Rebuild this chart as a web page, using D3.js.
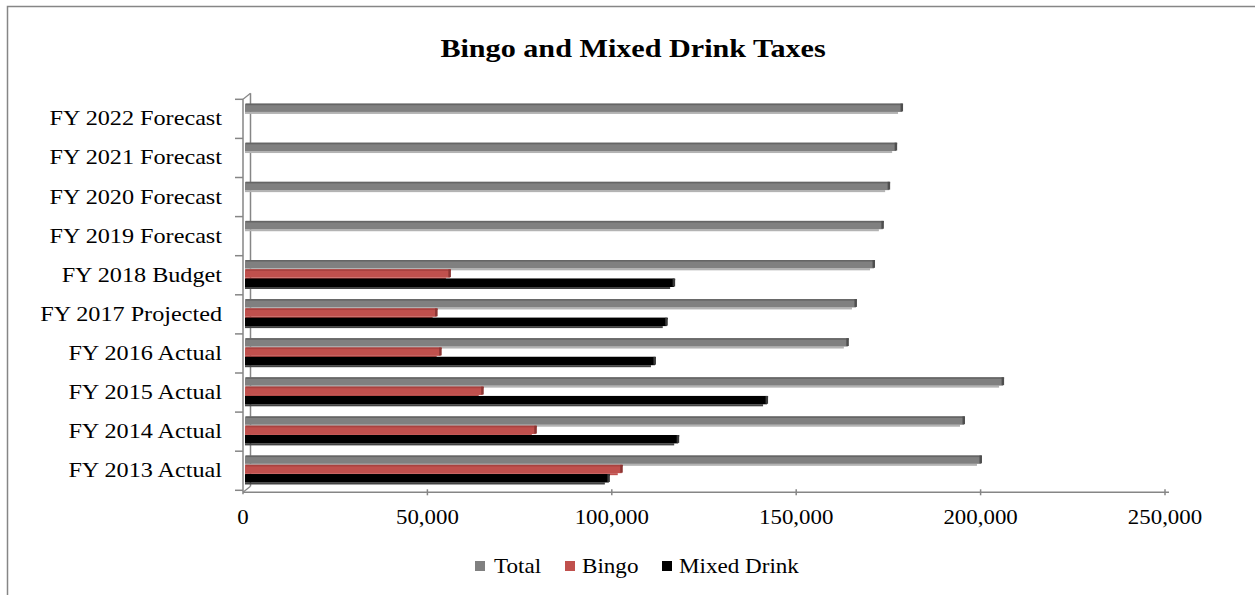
<!DOCTYPE html>
<html>
<head>
<meta charset="utf-8">
<script src="https://cdn.jsdelivr.net/npm/d3@7"></script>
<style>
  html, body { margin: 0; padding: 0; background: #fff; }
  svg { display: block; }
  text { font-family: "Liberation Serif", "Times New Roman", serif; fill: #000; }
</style>
</head>
<body>
<svg id="chart" width="1255" height="595"></svg>
<script>
// Fiscal years, bottom to top
const categories = [
  "FY 2013 Actual", "FY 2014 Actual", "FY 2015 Actual", "FY 2016 Actual",
  "FY 2017 Projected", "FY 2018 Budget", "FY 2019 Forecast", "FY 2020 Forecast",
  "FY 2021 Forecast", "FY 2022 Forecast"
];
const seriesNames = ["Total", "Bingo", "Mixed Drink"];
const totalValues = [200100, 195500, 206100, 164000, 166200, 171100, 173500, 175200, 177100, 178700];
const bingoValues = [102700, 79400, 65000, 53600, 52500, 56100, null, null, null, null];
const mixedDrinkValues = [99200, 118000, 142100, 111700, 114900, 116900, null, null, null, null];
const xTicks = [0, 50000, 100000, 150000, 200000, 250000];

const colors = { "Total": "#808080", "Bingo": "#c0504d", "Mixed Drink": "#000000" };
const capColors = { "Total": "#4f4f4f", "Bingo": "#8c3533", "Mixed Drink": "#3a3a3a" };
const topColors = { "Total": "#656565", "Bingo": "#a9423f", "Mixed Drink": "#000000" };
const edgeColors = { "Total": "#b3b3b3", "Bingo": "#c0504d", "Mixed Drink": "#444444" };
const axisColor = "#868686";

const svg = d3.select("#chart");

// place a text at (px, py), stretched horizontally by sx
function placeText(sel, px, py, sx) {
  return sel.attr("transform", (d, i) => {
    const X = typeof px === "function" ? px(d, i) : px;
    const Y = typeof py === "function" ? py(d, i) : py;
    return `translate(${X},${Y}) scale(${sx},1)`;
  });
}

// outer chart frame
svg.append("rect")
  .attr("x", 7.5).attr("y", 6.5).attr("width", 1300).attr("height", 700)
  .attr("fill", "#fff").attr("stroke", axisColor).attr("stroke-width", 1.5);

// title
placeText(svg.append("text"), 633, 57, 1.16)
  .attr("text-anchor", "middle")
  .style("font-weight", "bold").style("font-size", "26px")
  .text("Bingo and Mixed Drink Taxes");

const x = d3.scaleLinear().domain([0, 250000]).range([243, 1165]);
const y = d3.scaleBand().domain(categories.slice().reverse()).range([99.3, 490.3]).padding(0);
const ySeries = d3.scaleBand().domain(seriesNames).range([4.3, 32.3]).padding(0);

const rows = categories.map((c, i) => ({
  category: c,
  values: [
    { name: "Total", value: totalValues[i] },
    { name: "Bingo", value: bingoValues[i] },
    { name: "Mixed Drink", value: mixedDrinkValues[i] }
  ]
}));

// back wall edge (3D depth line)
const backX = x(0) + 7.5;
svg.append("line")
  .attr("x1", backX).attr("x2", backX)
  .attr("y1", y.range()[0] - 6).attr("y2", y.range()[1] - 4)
  .attr("stroke", axisColor).attr("stroke-width", 1.5);
svg.append("line")
  .attr("x1", x(0)).attr("x2", backX)
  .attr("y1", y.range()[0]).attr("y2", y.range()[0] - 6)
  .attr("stroke", axisColor).attr("stroke-width", 1.2);
svg.append("line")
  .attr("x1", x(0)).attr("x2", backX)
  .attr("y1", y.range()[1] + 2).attr("y2", y.range()[1] - 4)
  .attr("stroke", axisColor).attr("stroke-width", 1.2);

// bars
const groups = svg.append("g").selectAll("g")
  .data(rows).join("g")
  .attr("transform", d => `translate(0,${y(d.category)})`);

const bars = groups.selectAll("g.bar")
  .data(d => d.values.filter(v => v.value != null))
  .join("g").attr("class", "bar");

const x0 = x(0) + 2;
const bh = ySeries.bandwidth();

// lower edge highlight
bars.append("rect")
  .attr("x", x0)
  .attr("y", d => ySeries(d.name) + bh - 1)
  .attr("width", d => Math.max(0, x(d.value) - x0 - 4))
  .attr("height", 2)
  .attr("fill", d => edgeColors[d.name]);
// front face
bars.append("rect")
  .attr("x", x0)
  .attr("y", d => ySeries(d.name))
  .attr("width", d => x(d.value) - x0)
  .attr("height", bh - 1)
  .attr("fill", d => colors[d.name]);
// top face
bars.append("rect")
  .attr("x", x0 + 1)
  .attr("y", d => ySeries(d.name))
  .attr("width", d => x(d.value) - x0)
  .attr("height", 1.6)
  .attr("fill", d => topColors[d.name]);
// end face
bars.append("rect")
  .attr("x", d => x(d.value) - 1.5)
  .attr("y", d => ySeries(d.name))
  .attr("width", 2.5)
  .attr("height", bh - 1.5)
  .attr("fill", d => capColors[d.name]);

// category axis
const yAxisG = svg.append("g");
yAxisG.append("line")
  .attr("x1", x(0)).attr("x2", x(0))
  .attr("y1", y.range()[0]).attr("y2", y.range()[1] + 4)
  .attr("stroke", axisColor).attr("stroke-width", 1.5);
const boundaries = d3.range(categories.length + 1).map(i => y.range()[0] + i * y.step());
yAxisG.selectAll("line.tick").data(boundaries).join("line")
  .attr("class", "tick")
  .attr("x1", x(0) - 8).attr("x2", x(0))
  .attr("y1", d => d).attr("y2", d => d)
  .attr("stroke", axisColor).attr("stroke-width", 1.5);
placeText(yAxisG.selectAll("text").data(categories).join("text"),
    222, d => y(d) + y.bandwidth() / 2 + 6.5, 1.1)
  .attr("text-anchor", "end")
  .style("font-size", "22px")
  .text(d => d);

// value axis
const xAxisG = svg.append("g");
xAxisG.append("line")
  .attr("x1", x(0)).attr("x2", 1169)
  .attr("y1", y.range()[1] + 2).attr("y2", y.range()[1] + 2)
  .attr("stroke", axisColor).attr("stroke-width", 1.5);
xAxisG.selectAll("line.tick").data(xTicks.slice(1)).join("line")
  .attr("class", "tick")
  .attr("x1", d => x(d)).attr("x2", d => x(d))
  .attr("y1", y.range()[1] - 1).attr("y2", y.range()[1] + 5)
  .attr("stroke", axisColor).attr("stroke-width", 1.5);
placeText(xAxisG.selectAll("text").data(xTicks).join("text"), d => x(d), 524, 1.09)
  .attr("text-anchor", "middle")
  .style("font-size", "21px")
  .text(d => d3.format(",")(d));

// legend
const legendItems = [
  { name: "Total", sx: 475, tx: 494 },
  { name: "Bingo", sx: 565, tx: 582 },
  { name: "Mixed Drink", sx: 662, tx: 679 }
];
const lg = svg.append("g").selectAll("g").data(legendItems).join("g");
lg.append("rect")
  .attr("x", d => d.sx).attr("y", 561)
  .attr("width", 10).attr("height", 10)
  .attr("fill", d => colors[d.name]);
placeText(lg.append("text"), d => d.tx, 573, 1.1)
  .style("font-size", "21px")
  .text(d => d.name);
</script>
</body>
</html>
